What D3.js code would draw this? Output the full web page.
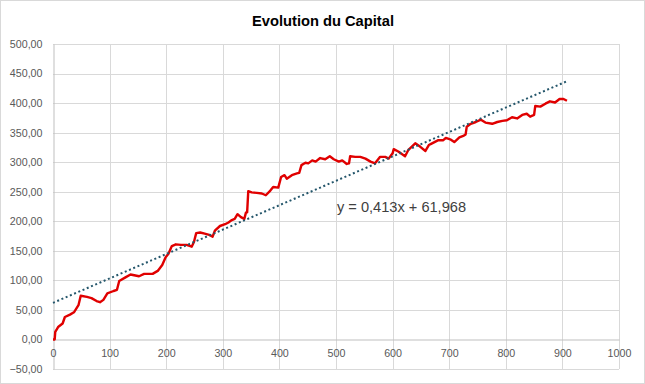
<!DOCTYPE html>
<html>
<head>
<meta charset="utf-8">
<script src="https://cdn.jsdelivr.net/npm/d3@7"></script>
<style>
body { margin: 0; background: #fff; }
svg { display: block; font-family: "Liberation Sans", Arial, sans-serif; }
.axis text { fill: #595959; font-size: 10.7px; }
</style>
</head>
<body>
<svg width="645" height="384"></svg>
<script>
// trade number (x) and capital (y)
var trades = [0, 3, 4, 9, 17, 21, 30, 37, 45, 49, 60, 68, 77, 83, 89, 96, 107, 113, 117, 128,
  137, 152, 161, 176, 185, 193, 199, 204, 210, 217, 226, 236, 245, 249, 253, 260, 268, 276, 282, 286,
  295, 304, 310, 316, 321, 326, 332, 338, 341, 343, 345, 351, 360, 369, 376, 384, 389, 398, 403, 409,
  413, 422, 431, 435, 439, 446, 451, 458, 464, 472, 481, 489, 496, 505, 511, 519, 523, 525, 534, 543,
  552, 561, 569, 578, 587, 593, 600, 602, 610, 622, 628, 640, 649, 658, 664, 668, 674, 680, 689, 694,
  703, 709, 718, 726, 729, 731, 738, 747, 756, 764, 776, 785, 794, 802, 811, 820, 829, 837, 843, 850,
  852, 861, 870, 878, 887, 895, 902, 908];
var capital = [0, 0, 13, 21, 27, 38, 42, 46, 58, 74, 72, 70, 65, 63, 67, 78, 82, 84, 99, 105,
  110, 107, 111, 111, 116, 126, 139, 145, 158, 161, 160, 160, 157, 165, 180, 181, 179, 177, 174, 184,
  192, 195, 198, 202, 204, 212, 207, 204, 215, 215, 251, 249, 248, 247, 244, 252, 258, 257, 275, 278,
  272, 278, 281, 282, 295, 299, 298, 303, 301, 307, 305, 310, 305, 301, 303, 297, 298, 310, 309, 309,
  306, 301, 298, 309, 309, 306, 315, 322, 318, 310, 321, 332, 326, 319, 329, 331, 334, 337, 337, 341,
  338, 334, 342, 345, 347, 360, 365, 368, 372, 367, 365, 368, 370, 371, 376, 374, 380, 382, 377, 380,
  395, 394, 399, 403, 401, 407, 407, 404];

var xTicks = [0, 100, 200, 300, 400, 500, 600, 700, 800, 900, 1000];
var yTicks = [-50, 0, 50, 100, 150, 200, 250, 300, 350, 400, 450, 500];

var trendSlope = 0.413,
    trendIntercept = 61.968;
var trendLabel = "y = 0,413x + 61,968";
var title = "Evolution du Capital";

var svg = d3.select("svg"),
    width = +svg.attr("width"),
    height = +svg.attr("height");

var fr = d3.formatLocale({decimal: ",", thousands: " ", grouping: [3], currency: ["", " €"]});

var x = d3.scaleLinear()
    .domain([0, 1000])
    .range([53, 619]);

var y = d3.scaleLinear()
    .domain([-50, 500])
    .range([369, 44]);

// chart frame
svg.append("rect")
    .attr("x", 0.5)
    .attr("y", 0.5)
    .attr("width", width - 1)
    .attr("height", height - 1)
    .attr("fill", "#fff")
    .attr("stroke", "#d9d9d9");

svg.append("text")
    .attr("x", 323)
    .attr("y", 25.5)
    .attr("text-anchor", "middle")
    .attr("font-weight", "bold")
    .attr("font-size", "14.7px")
    .attr("fill", "#000")
    .text(title);

// gridlines
svg.append("g")
    .selectAll("line")
    .data(yTicks.filter(d => d !== 0))
    .enter().append("line")
    .attr("x1", x(0))
    .attr("x2", x(1000))
    .attr("y1", d => Math.round(y(d)) + 0.5)
    .attr("y2", d => Math.round(y(d)) + 0.5)
    .attr("stroke", "#d9d9d9");

svg.append("g")
    .selectAll("line")
    .data(xTicks.filter(d => d !== 0))
    .enter().append("line")
    .attr("x1", d => Math.round(x(d)) + 0.5)
    .attr("x2", d => Math.round(x(d)) + 0.5)
    .attr("y1", y(500))
    .attr("y2", y(-50))
    .attr("stroke", "#d9d9d9");

// axes
var yAxis = d3.axisLeft(y)
    .tickValues(yTicks)
    .tickSize(0)
    .tickPadding(11)
    .tickFormat(fr.format(".2f"));

var gY = svg.append("g")
    .attr("class", "axis")
    .attr("transform", "translate(" + (Math.round(x(0)) + 0.5) + ",0)")
    .call(yAxis);
gY.select(".domain").attr("stroke", "#bfbfbf");

var xAxis = d3.axisBottom(x)
    .tickValues(xTicks)
    .tickSize(0)
    .tickPadding(10)
    .tickFormat(d3.format("d"));

var gX = svg.append("g")
    .attr("class", "axis")
    .attr("transform", "translate(0," + (Math.round(y(0)) + 0.5) + ")")
    .call(xAxis);
gX.select(".domain").attr("stroke", "#bfbfbf");
gX.selectAll("text").attr("dy", "0.7em");

// capital line
var line = d3.line()
    .x((d, i) => x(trades[i]))
    .y(d => y(d));

svg.append("path")
    .datum(capital)
    .attr("fill", "none")
    .attr("stroke", "#e00000")
    .attr("stroke-width", 2.4)
    .attr("stroke-linejoin", "round")
    .attr("d", line);

// linear trendline
var lastTrade = trades[trades.length - 1];
var trend = [0, lastTrade].map(t => [t, trendSlope * t + trendIntercept]);

svg.append("path")
    .datum(trend)
    .attr("fill", "none")
    .attr("stroke", "#24566b")
    .attr("stroke-width", 2)
    .attr("stroke-dasharray", "2,2.6")
    .attr("d", d3.line().x(d => x(d[0])).y(d => y(d[1])));

svg.append("text")
    .attr("x", 337)
    .attr("y", 212)
    .attr("font-size", "14.6px")
    .attr("fill", "#404040")
    .text(trendLabel);
</script>
</body>
</html>
